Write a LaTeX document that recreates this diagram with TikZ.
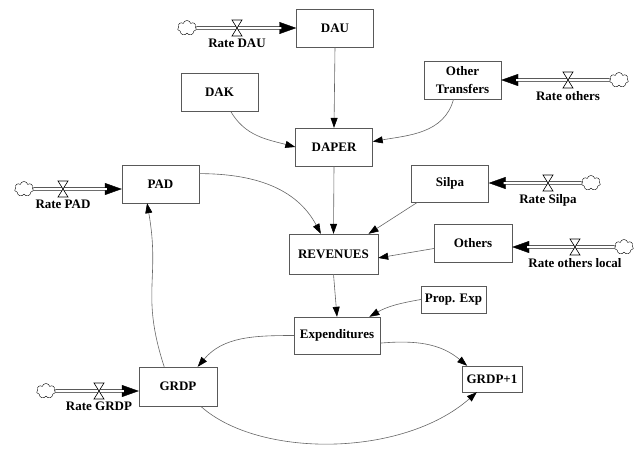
\documentclass[tikz,border=0pt]{standalone}
\usepackage{fontspec}
\setmainfont{Liberation Serif}
\usetikzlibrary{arrows.meta,shapes.symbols}

\begin{document}
\begin{tikzpicture}[
	x=1pt,
	y=-1pt,
	stockbox/.style={
		rectangle,
		draw=black!65,
		minimum width=77pt,
		minimum height=38pt,
		inner sep=1pt,
		align=center,
		font=\fontsize{13}{18}\selectfont\bfseries
	},
	linkarrow/.style={
		draw=black!60,
		semithick,
		-{Triangle[length=10pt,width=7pt,color=black]}
	},
	pipe/.style={
		draw=black,
		double=white,
		double distance=2pt,
		line width=0.7pt,
		shorten >=15pt
	},
	pipehead/.style={
		draw=black,
		thin,
		-{Triangle[length=17pt,width=12pt,color=black]}
	},
	cloudy/.style={
		cloud,
		cloud puffs=7,
		draw=black,
		thin,
		fill=white,
		minimum width=19pt,
		minimum height=15pt,
		inner sep=0pt
	},
	valveshape/.style={
		draw=black,
		semithick,
		fill=white
	},
	ratelabel/.style={
		anchor=north,
		inner sep=0pt,
		font=\fontsize{13}{15}\selectfont\bfseries
	}
]

\useasboundingbox (0,0) rectangle (635,448);

% stocks and auxiliaries
\node[stockbox] (dau) at (335,28) {DAU};
\node[stockbox] (dak) at (219.5,92) {DAK};
\node[stockbox] (daper) at (334,147) {DAPER};
\node[stockbox] (otrans) at (462.5,80) {Other\\Transfers};
\node[stockbox] (pad) at (160.5,184) {PAD};
\node[stockbox, minimum height=37pt] (silpa) at (450,183.5) {Silpa};
\node[stockbox, minimum width=78pt] (others) at (473,243) {Others};
\node[stockbox, minimum width=89pt, minimum height=40pt] (rev) at (333.5,254) {REVENUES};
\node[stockbox, minimum width=65pt, minimum height=27pt] (propexp) at (453.5,299.5) {Prop. Exp};
\node[stockbox, minimum width=86pt, minimum height=37pt] (exp) at (337,335.5) {Expenditures};
\node[stockbox, minimum width=78pt, minimum height=39pt] (grdp) at (178,386.5) {GRDP};
\node[stockbox, minimum width=60pt, minimum height=26pt] (grdpnext) at (492,379) {GRDP+1};

% flows: cloud x / valve x / y / target / label
\foreach \cx/\vx/\cy/\tgt/\txt [count=\i] in {
	187/237/28/dau.west/Rate DAU,
	619/568/80/otrans.east/Rate others,
	24/63/189/pad.west/Rate PAD,
	591/548/183/silpa.east/Rate Silpa,
	624/575/247/others.east/Rate others local,
	46/99/391/grdp.west/Rate GRDP%
}{
	\node[cloudy] (cloud\i) at (\cx,\cy) {};
	\coordinate (valve\i) at (\vx,\cy);
	\coordinate (tip\i) at (\tgt |- valve\i);
	\draw[pipehead] (cloud\i) -- (tip\i);
	\draw[pipe] (cloud\i) -- (tip\i);
	\draw[valveshape] (valve\i) ++(-5,-8) -- ++(10,0) -- ++(-10,16) -- ++(10,0) -- cycle;
	\node[ratelabel] (rate\i) at (\vx,\cy+11) {\txt};
}

% links
\draw[linkarrow] (dau.south) -- (daper.north);
\draw[linkarrow] (dak.-60) to[out=-60,in=165] (daper.west);
\draw[linkarrow] (otrans.-115) to[out=-105,in=10] (daper.8);
\draw[linkarrow] (daper.south) -- (rev.north);
\draw[linkarrow] (pad.15) to[out=0,in=118] (rev.122);
\draw[linkarrow] (silpa.-150) -- (rev.30);
\draw[linkarrow] (others.188) -- (rev.-5);
\draw[linkarrow] (rev.south) -- (exp.north);
\draw[linkarrow] (propexp.west) to[out=190,in=30] (exp.30);
\draw[linkarrow] (exp.west) to[out=180,in=50] (grdp.45);
\draw[linkarrow] (exp.-10) to[out=5,in=140] (grdpnext.152);
\draw[linkarrow] (grdp.-41) .. controls (258,458) and (402,458) .. (grdpnext.-139);
\draw[linkarrow] (grdp.125) to[out=108,in=-80,looseness=1.2] (pad.-125);

\end{tikzpicture}
\end{document}
